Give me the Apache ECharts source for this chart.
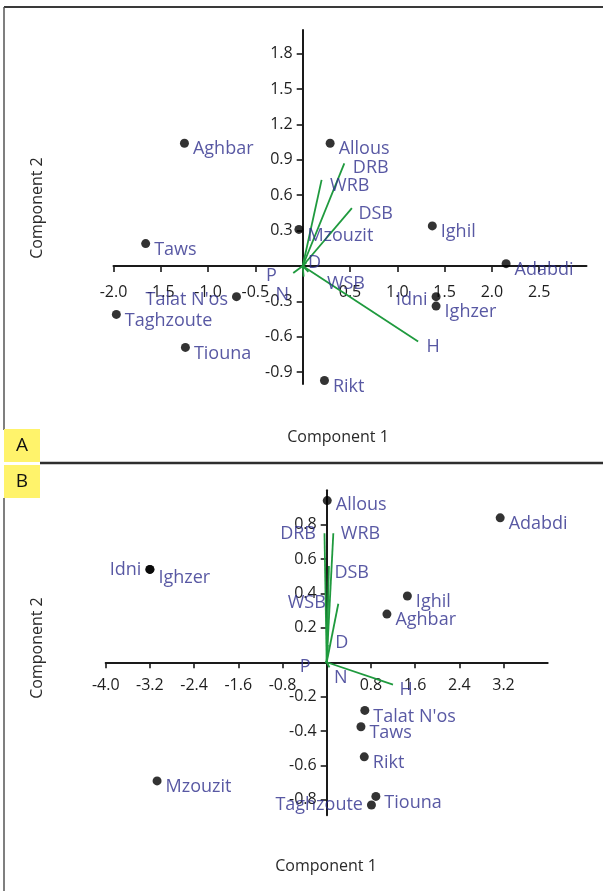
<!DOCTYPE html>
<html>
<head>
<meta charset="utf-8">
<script src="https://cdn.jsdelivr.net/npm/echarts@6/dist/echarts.min.js"></script>
<style>
html,body{margin:0;padding:0;background:#fff;}
#main{width:603px;height:891px;}
</style>
</head>
<body>
<div id="main"></div>
<script>
// ---------- DATA ----------
const sites = ['Aghbar','Allous','Taws','Mzouzit','Ighil','Adabdi',"Talat N'os",'Taghzoute','Tiouna','Rikt','Idni','Ighzer'];
// Panel A scores
const scoreA_x = [-1.25, 0.29, -1.66, -0.04, 1.37, 2.15, -0.70, -1.97, -1.24, 0.23, 1.41, 1.41];
const scoreA_y = [ 1.04, 1.04,  0.19,  0.31, 0.34, 0.02, -0.26, -0.41, -0.69, -0.97, -0.26, -0.34];
// Panel B scores
const scoreB_x = [1.09, 0.01, 0.62, -3.07, 1.46, 3.14, 0.69, 0.81, 0.89, 0.68, -3.20, -3.20];
const scoreB_y = [0.28, 0.94, -0.375, -0.69, 0.385, 0.84, -0.28, -0.83, -0.78, -0.55, 0.54, 0.54];

const variables = ['DRB','WRB','DSB','WSB','D','P','N','H'];
const loadA_x = [0.44, 0.20, 0.52, 0.06, 0.04, -0.10, 0.01, 1.22];
const loadA_y = [0.87, 0.73, 0.49, -0.05, 0.03, -0.06, -0.09, -0.64];
const loadB_x = [-0.04, 0.12, 0.04, 0.21, 0.02, -0.03, 0.05, 1.20];
const loadB_y = [0.75, 0.75, 0.56, 0.34, 0.10, 0.00, -0.03, -0.13];

const ticksA_x = [-2.0,-1.5,-1.0,-0.5,0.5,1.0,1.5,2.0,2.5];
const ticksA_y = [-0.9,-0.6,-0.3,0.3,0.6,0.9,1.2,1.5,1.8];
const ticksB_x = [-4.0,-3.2,-2.4,-1.6,-0.8,0.8,1.6,2.4,3.2];
const ticksB_y = [-0.8,-0.6,-0.4,-0.2,0.2,0.4,0.6,0.8];

// ---------- STYLE ----------
const FONT = '"Open Sans", "Noto Sans", sans-serif';
const LBL = '#2e2e8c';
const GREEN = '#1f9a3e';
const AXC = '#1a1a1a';
const TICKC = '#1e1e1e';
const LFS = 18;   // label font size
const TFS = 16;   // tick font size

const gridA = {left:113.5, top:30, width:473, height:354};
const gridB = {left:105.7, top:490.3, width:442, height:325};
const rangeA = {xmin:-2.0, xmax:3.0, ymin:-1.0, ymax:2.0};
const rangeB = {xmin:-4.0, xmax:4.0, ymin:-0.89, ymax:1.0};

const siteLabelA = {"Talat N'os":'left', 'Idni':'left'};
const siteLabelB = {'Idni':'left', 'Taghzoute':'left'};
const siteOffsetA = {"Talat N'os":[0,3], 'Idni':[0,3]};
const siteOffsetB = {'Idni':[0,0], 'Ighzer':[0,8], 'Taghzoute':[0,0], 'Allous':[0,4]};

const vecLabelA = {
  DRB:{position:'right', offset:[4,5]},
  WRB:{position:'right', offset:[4,6]},
  DSB:{position:'right', offset:[2,6]},
  WSB:{position:'right', offset:[14,12]},
  D:{position:'right', offset:[-3,0]},
  P:{position:'left', offset:[-12,3]},
  N:{position:'left', offset:[-10,18]},
  H:{position:'right', offset:[4,5]}
};
const vecLabelB = {
  DRB:{position:'left', offset:[-4,1]},
  WRB:{position:'right', offset:[3,1]},
  DSB:{position:'right', offset:[1,7]},
  WSB:{position:'left', offset:[-8,-1]},
  D:{position:'right', offset:[3,-2]},
  P:{position:'left', offset:[-10,5]},
  N:{position:'right', offset:[0,10]},
  H:{position:'right', offset:[2,5]}
};

function fmt(v){ return (Math.round(v*10)/10).toFixed(1); }

// offset that moves an axis from the grid edge to the other axis' zero
function zeroOffX(g, r){ return -(g.height * (0 - r.ymin) / (r.ymax - r.ymin)); }
function zeroOffY(g, r){ return -(g.width * (0 - r.xmin) / (r.xmax - r.xmin)); }

function makeAxisX(gridIndex, g, r, ticks, margin){
  return {
    type:'value', gridIndex, min:r.xmin, max:r.xmax,
    offset: zeroOffX(g, r),
    splitLine:{show:false},
    axisLine:{show:true, onZero:false, lineStyle:{color:AXC, width:2}},
    axisTick:{show:true, length:6, customValues:ticks, lineStyle:{color:AXC, width:1.6}},
    axisLabel:{show:true, customValues:ticks, formatter:fmt, margin, color:TICKC, fontSize:TFS, fontFamily:FONT}
  };
}
function makeAxisY(gridIndex, g, r, ticks){
  return {
    type:'value', gridIndex, min:r.ymin, max:r.ymax,
    offset: zeroOffY(g, r),
    splitLine:{show:false},
    axisLine:{show:true, onZero:false, lineStyle:{color:AXC, width:2}},
    axisTick:{show:true, length:6, customValues:ticks, lineStyle:{color:AXC, width:1.6}},
    axisLabel:{show:true, customValues:ticks, formatter:fmt, margin:10, color:TICKC, fontSize:TFS, fontFamily:FONT}
  };
}

function scoreSeries(idx, xs, ys, posMap, offMap){
  return {
    type:'scatter', xAxisIndex:idx, yAxisIndex:idx, symbolSize:9, z:5,
    itemStyle:{color:'#000'},
    label:{show:true, formatter:'{b}', color:LBL, fontSize:LFS, fontFamily:FONT, distance:4},
    data: sites.map((s,i)=>({
      name:s, value:[xs[i], ys[i]],
      label:{position:posMap[s]||'right', offset:(offMap&&offMap[s])||[0,6]}
    }))
  };
}

function vectorSeries(idx, xs, ys, lblMap){
  const out = [];
  variables.forEach((v,i)=>{
    out.push({
      type:'line', xAxisIndex:idx, yAxisIndex:idx, symbol:'none', z:3,
      lineStyle:{color:GREEN, width:1.8}, silent:true,
      data:[[0,0],[xs[i], ys[i]]]
    });
  });
  out.push({
    type:'scatter', xAxisIndex:idx, yAxisIndex:idx, symbolSize:1, z:4,
    itemStyle:{color:'rgba(0,0,0,0)'},
    label:{show:true, formatter:'{b}', color:LBL, fontSize:LFS, fontFamily:FONT, distance:4},
    data: variables.map((v,i)=>({
      name:v, value:[xs[i], ys[i]],
      label:{position:lblMap[v].position, offset:lblMap[v].offset}
    }))
  });
  return out;
}

const chart = echarts.init(document.getElementById('main'), null, {renderer:'canvas'});
const titleStyle = {fill:'#2a2a2a', font:'16px ' + FONT, textAlign:'center', textVerticalAlign:'middle'};

chart.setOption({
  animation:false,
  textStyle:{fontFamily:FONT},
  grid:[gridA, gridB],
  xAxis:[ makeAxisX(0, gridA, rangeA, ticksA_x, 18), makeAxisX(1, gridB, rangeB, ticksB_x, 15) ],
  yAxis:[ makeAxisY(0, gridA, rangeA, ticksA_y), makeAxisY(1, gridB, rangeB, ticksB_y) ],
  series:[
    ...vectorSeries(0, loadA_x, loadA_y, vecLabelA),
    ...vectorSeries(1, loadB_x, loadB_y, vecLabelB),
    scoreSeries(0, scoreA_x, scoreA_y, siteLabelA, siteOffsetA),
    scoreSeries(1, scoreB_x, scoreB_y, siteLabelB, siteOffsetB)
  ],
  graphic:[
    // panel frames
    {type:'line', shape:{x1:4, y1:7, x2:603, y2:7}, style:{stroke:'#3a3a3a', lineWidth:2}},
    {type:'line', shape:{x1:4, y1:7, x2:4, y2:430}, style:{stroke:'#555', lineWidth:1.5}},
    {type:'line', shape:{x1:4, y1:498, x2:4, y2:891}, style:{stroke:'#555', lineWidth:1.5}},
    {type:'line', shape:{x1:40, y1:463, x2:603, y2:463}, style:{stroke:'#2e2e2e', lineWidth:2.5}},
    // A / B badges
    {type:'rect', shape:{x:4, y:429, width:36, height:33}, style:{fill:'#fff36b'}},
    {type:'rect', shape:{x:4, y:465, width:36, height:33}, style:{fill:'#fff36b'}},
    {type:'text', x:22, y:446, style:{text:'A', fill:'#111', font:'19px ' + FONT, textAlign:'center', textVerticalAlign:'middle'}},
    {type:'text', x:22, y:482, style:{text:'B', fill:'#111', font:'19px ' + FONT, textAlign:'center', textVerticalAlign:'middle'}},
    // axis titles
    {type:'text', x:338, y:437, style:Object.assign({text:'Component 1'}, titleStyle)},
    {type:'text', x:37, y:208, rotation:Math.PI/2, style:Object.assign({text:'Component 2'}, titleStyle)},
    {type:'text', x:326, y:866, style:Object.assign({text:'Component 1'}, titleStyle)},
    {type:'text', x:37, y:648, rotation:Math.PI/2, style:Object.assign({text:'Component 2'}, titleStyle)}
  ]
});
</script>
</body>
</html>
